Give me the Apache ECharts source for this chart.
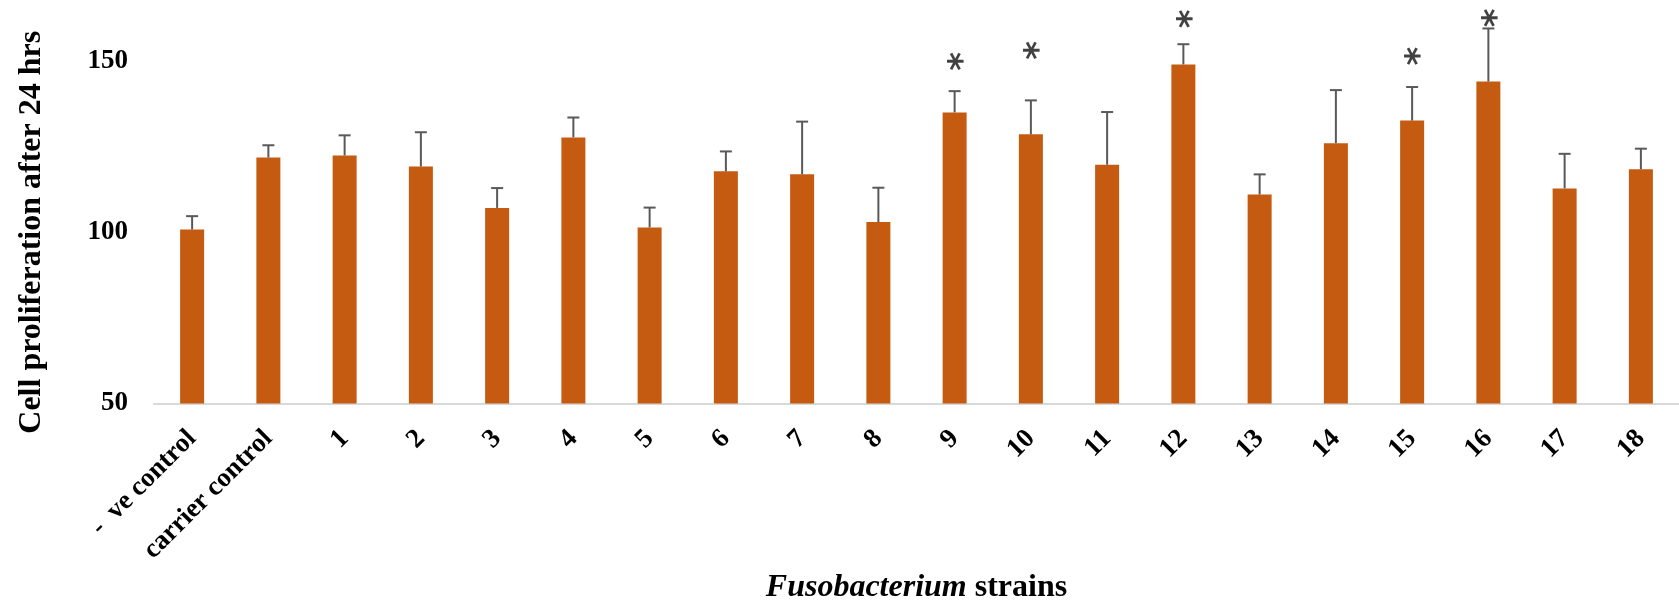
<!DOCTYPE html>
<html>
<head>
<meta charset="utf-8">
<script src="https://cdn.jsdelivr.net/npm/echarts@6/dist/echarts.min.js"></script>
<style>
  html, body { margin: 0; padding: 0; background: #fff; }
  #chart { width: 1679px; height: 612px; }
</style>
</head>
<body>
<div id="chart"></div>
<script>
// Strain categories on the x axis
const categories = ['-  ve control', 'carrier control', '1', '2', '3', '4', '5', '6', '7', '8', '9',
  '10', '11', '12', '13', '14', '15', '16', '17', '18'];
// Mean proliferation after 24 h and the upper error (SD) for each strain
const meanValues = [100.8, 121.8, 122.4, 119.2, 107.1, 127.7, 101.4, 117.8, 116.9, 103.0, 135.0,
  128.6, 119.7, 149.0, 111.0, 126.0, 132.6, 144.0, 112.8, 118.4];
const errValues = [3.9, 3.6, 5.9, 10.0, 5.8, 5.8, 5.8, 5.8, 15.4, 10.0, 6.2,
  9.9, 15.4, 5.9, 5.9, 15.5, 9.8, 15.5, 10.1, 6.0];
// Significance markers: strain and the level (in axis units) of its asterisk
const starStrains = ['9', '10', '12', '15', '16'];
const starLevels = [149.9, 153.1, 162.3, 151.4, 162.6];
// Y axis ticks
const yMin = 50, yMax = 150, yStep = 50;

const FONT = "'Liberation Serif', 'Times New Roman', serif";
const chart = echarts.init(document.getElementById('chart'), null, { renderer: 'canvas' });

const errData = categories.map((c, i) => [i, meanValues[i], meanValues[i] + errValues[i]]);
const starData = starStrains.map((s, k) => [s, starLevels[k]]);

chart.setOption({
  animation: false,
  backgroundColor: '#ffffff',
  grid: { left: 154, top: 61, width: 1532, height: 342.5 },
  xAxis: {
    type: 'category',
    data: categories,
    axisLine: { show: true, lineStyle: { color: '#d9d9d9', width: 2 } },
    axisTick: { show: false },
    axisLabel: {
      interval: 0, rotate: 45, margin: 31,
      fontFamily: FONT, fontWeight: 'bold', fontSize: 27, color: '#000'
    },
    name: '{i|Fusobacterium} strains',
    nameLocation: 'middle',
    nameGap: 168,
    nameTextStyle: {
      fontFamily: FONT, fontWeight: 'bold', fontSize: 32, color: '#000',
      rich: { i: { fontFamily: FONT, fontWeight: 'bold', fontStyle: 'italic', fontSize: 32, color: '#000' } }
    }
  },
  yAxis: {
    type: 'value',
    min: yMin, max: yMax, interval: yStep,
    axisLine: { show: false },
    axisTick: { show: false },
    splitLine: { show: false },
    axisLabel: { margin: 26, fontFamily: FONT, fontWeight: 'bold', fontSize: 27, color: '#000' },
    name: 'Cell proliferation after 24 hrs',
    nameLocation: 'middle',
    nameRotate: 90,
    nameGap: 106,
    nameTextStyle: { fontFamily: FONT, fontWeight: 'bold', fontSize: 32, color: '#000' }
  },
  series: [
    {
      type: 'bar',
      data: meanValues,
      barWidth: 24,
      itemStyle: { color: '#c55a11' },
      z: 2
    },
    {
      type: 'custom',
      clip: false,
      z: 3,
      data: errData,
      renderItem: function (params, api) {
        const base = api.coord([api.value(0), api.value(1)]);
        const top = api.coord([api.value(0), api.value(2)]);
        const style = { stroke: '#595959', lineWidth: 2 };
        return {
          type: 'group',
          children: [
            { type: 'line', shape: { x1: base[0], y1: base[1], x2: top[0], y2: top[1] }, style: style },
            { type: 'line', shape: { x1: top[0] - 6, y1: top[1], x2: top[0] + 6, y2: top[1] }, style: style }
          ]
        };
      }
    },
    {
      type: 'scatter',
      clip: false,
      data: starData,
      symbolSize: 0,
      z: 4,
      label: {
        // asterisk turned a quarter so its arms lie horizontally; offset re-centres the raised glyph
        show: true, position: 'inside', formatter: '*', rotate: 90, offset: [0, 9],
        fontFamily: "'DejaVu Sans', sans-serif", fontWeight: 'bold', fontSize: 36, color: '#111'
      }
    }
  ]
});
</script>
</body>
</html>
